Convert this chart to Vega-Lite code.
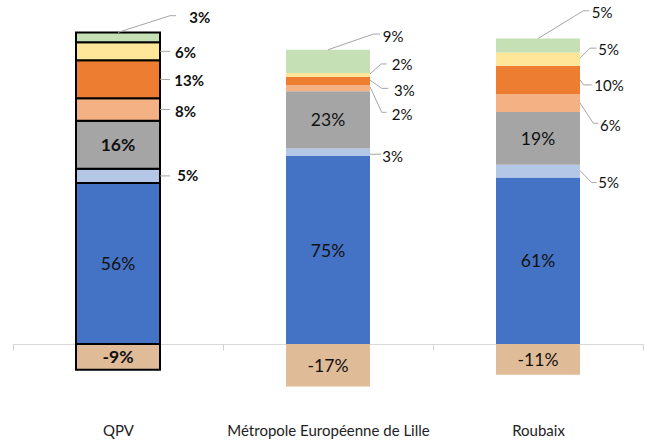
{
  "$schema": "https://vega.github.io/schema/vega-lite/v6.json",
  "width": 630,
  "height": 420,
  "autosize": {"type": "none"},
  "padding": {"left": 13, "top": 11, "right": 2, "bottom": 10},
  "background": "white",
  "config": {"view": {"stroke": null}, "font": "Lato"},
  "data": {"values": [
    {"place": "QPV", "type": "A", "value": 55.5, "label": "56%"},
    {"place": "QPV", "type": "B", "value": 4.9, "label": "5%"},
    {"place": "QPV", "type": "C", "value": 16.6, "label": "16%"},
    {"place": "QPV", "type": "D", "value": 7.7, "label": "8%"},
    {"place": "QPV", "type": "E", "value": 13.1, "label": "13%"},
    {"place": "QPV", "type": "F", "value": 6.2, "label": "6%"},
    {"place": "QPV", "type": "G", "value": 3.4, "label": "3%"},
    {"place": "QPV", "type": "H", "value": -8.9, "label": "-9%"},
    {"place": "Métropole Européenne de Lille", "type": "A", "value": 64.8, "label": "75%"},
    {"place": "Métropole Européenne de Lille", "type": "B", "value": 2.6, "label": "3%"},
    {"place": "Métropole Européenne de Lille", "type": "C", "value": 19.7, "label": "23%"},
    {"place": "Métropole Européenne de Lille", "type": "D", "value": 2.1, "label": "2%"},
    {"place": "Métropole Européenne de Lille", "type": "E", "value": 2.9, "label": "3%"},
    {"place": "Métropole Européenne de Lille", "type": "F", "value": 1.3, "label": "2%"},
    {"place": "Métropole Européenne de Lille", "type": "G", "value": 8.0, "label": "9%"},
    {"place": "Métropole Européenne de Lille", "type": "H", "value": -14.7, "label": "-17%"},
    {"place": "Roubaix", "type": "A", "value": 57.4, "label": "61%"},
    {"place": "Roubaix", "type": "B", "value": 4.4, "label": "5%"},
    {"place": "Roubaix", "type": "C", "value": 18.2, "label": "19%"},
    {"place": "Roubaix", "type": "D", "value": 6.2, "label": "6%"},
    {"place": "Roubaix", "type": "E", "value": 9.7, "label": "10%"},
    {"place": "Roubaix", "type": "F", "value": 4.6, "label": "5%"},
    {"place": "Roubaix", "type": "G", "value": 4.8, "label": "5%"},
    {"place": "Roubaix", "type": "H", "value": -10.6, "label": "-11%"}
  ]},
  "transform": [
    {"stack": "value", "groupby": ["place"], "sort": [{"field": "type", "order": "ascending"}], "as": ["v0", "v1"]}
  ],
  "encoding": {
    "x": {
      "field": "place", "type": "nominal",
      "sort": ["QPV", "Métropole Européenne de Lille", "Roubaix"],
      "scale": {"paddingInner": 0, "paddingOuter": 0},
      "axis": {
        "title": null, "orient": "bottom", "offset": -87, "labelAngle": 0, "labelLimit": 400,
        "labelPadding": 73, "labelFontSize": 15, "labelFont": "Lato", "labelColor": "#222222",
        "domainColor": "#D9D9D9", "domainWidth": 1, "ticks": true, "tickColor": "#D0D0D0", "tickWidth": 1, "tickSize": 6,
        "tickBand": "extent", "grid": false
      }
    }
  },
  "layer": [
    {
      "mark": {"type": "bar", "strokeWidth": 2, "width": {"band": 0.4}},
      "encoding": {
        "y": {"field": "v1", "type": "quantitative", "scale": {"domain": [-30, 114.8], "nice": false, "zero": false}, "axis": null},
        "y2": {"field": "v0"},
        "color": {
          "field": "type", "type": "nominal", "legend": null,
          "scale": {"domain": ["A", "B", "C", "D", "E", "F", "G", "H"],
                    "range": ["#4472C4", "#B4C7E7", "#A5A5A5", "#F4B183", "#ED7D31", "#FFE699", "#C5E0B4", "#DFBB97"]}
        },
        "stroke": {"condition": {"test": "datum.place === 'QPV'", "value": "#000000"}, "value": null}
      }
    },
    {
      "transform": [{"filter": {"field": "type", "oneOf": ["A", "C", "H"]}}],
      "mark": {
        "type": "text", "fontSize": 17.5, "font": "Lato", "color": "#111111", "baseline": "middle", "align": "center",
        "dy": {"expr": "(scale('y', datum.v1) - scale('y', datum.v0)) / 2 + 1.5"},
        "fontWeight": {"expr": "datum.place === 'QPV' && datum.type !== 'A' ? 'bold' : 'normal'"}
      },
      "encoding": {
        "y": {"field": "v0", "type": "quantitative"},
        "text": {"field": "label"}
      }
    },
    {
      "transform": [{"filter": {"field": "type", "oneOf": ["B", "D", "E", "F", "G"]}}],
      "mark": {
        "type": "rule", "color": "#A6A6A6", "strokeWidth": 1,
        "xOffset": {"expr": "datum.type === 'G' ? 0 : 42"},
        "x2Offset": {"expr": "42 + ({B: [10, 11, 11.7], D: [10, 11.7, 13.3], E: [10, 11.7, 3.3], F: [10, 11, 10], G: [10, 3.3, 3.3]})[datum.type][indexof(['QPV', 'Métropole Européenne de Lille', 'Roubaix'], datum.place)]"},
        "yOffset": {"expr": "(scale('y', datum.v1) - scale('y', datum.v0)) / 2 + ({B: [0, 2, -0.5], D: [0, -1.6, 0], E: [0, -1, 0], F: [0, -1, -1], G: [-5, -11.7, -7]})[datum.type][indexof(['QPV', 'Métropole Européenne de Lille', 'Roubaix'], datum.place)]"},
        "y2Offset": {"expr": "(scale('y', datum.v1) - scale('y', datum.v0)) / 2 + ({B: [0, 2, 11.5], D: [0, 24, 20.3], E: [0.3, 7.3, 5], F: [0, -11, -11], G: [-21.7, -27.4, -34.7]})[datum.type][indexof(['QPV', 'Métropole Européenne de Lille', 'Roubaix'], datum.place)]"}
      },
      "encoding": {
        "x2": {"field": "place"},
        "y": {"field": "v0", "type": "quantitative"},
        "y2": {"field": "v0"}
      }
    },
    {
      "transform": [{"filter": {"field": "type", "oneOf": ["B", "D", "E", "F", "G"]}}],
      "mark": {
        "type": "rule", "color": "#A6A6A6", "strokeWidth": 1,
        "xOffset": {"expr": "42 + ({B: [10, 11, 11.7], D: [10, 11.7, 13.3], E: [10, 11.7, 3.3], F: [10, 11, 10], G: [10, 3.3, 3.3]})[datum.type][indexof(['QPV', 'Métropole Européenne de Lille', 'Roubaix'], datum.place)]"},
        "x2Offset": {"expr": "42 + ({B: [10, 11, 16.7], D: [10, 16.7, 18.3], E: [10, 18.3, 11.7], F: [10, 16.7, 16.7], G: [16, 10, 9.3]})[datum.type][indexof(['QPV', 'Métropole Européenne de Lille', 'Roubaix'], datum.place)]"},
        "yOffset": {"expr": "(scale('y', datum.v1) - scale('y', datum.v0)) / 2 + ({B: [0, 2, 11.5], D: [0, 24, 20.3], E: [0.3, 7.3, 5], F: [0, -11, -11], G: [-21.7, -27.4, -34.7]})[datum.type][indexof(['QPV', 'Métropole Européenne de Lille', 'Roubaix'], datum.place)]"},
        "y2Offset": {"expr": "(scale('y', datum.v1) - scale('y', datum.v0)) / 2 + ({B: [0, 2, 11.5], D: [0, 24, 20.3], E: [0.3, 7.3, 5], F: [0, -11, -11], G: [-21.7, -27.4, -34.7]})[datum.type][indexof(['QPV', 'Métropole Européenne de Lille', 'Roubaix'], datum.place)]"}
      },
      "encoding": {
        "x2": {"field": "place"},
        "y": {"field": "v0", "type": "quantitative"},
        "y2": {"field": "v0"}
      }
    },
    {
      "transform": [{"filter": {"field": "type", "oneOf": ["B", "D", "E", "F", "G"]}}],
      "mark": {
        "type": "text", "fontSize": 15, "font": "Lato", "color": "#111111", "baseline": "middle", "align": "left",
        "dx": {"expr": "42 + ({B: [17.3, 12.3, 18.3], D: [15, 21.7, 20], E: [14.3, 24, 14.3], F: [15, 21.7, 18.3], G: [29.3, 12.7, 11.7]})[datum.type][indexof(['QPV', 'Métropole Européenne de Lille', 'Roubaix'], datum.place)]"},
        "dy": {"expr": "(scale('y', datum.v1) - scale('y', datum.v0)) / 2 + ({B: [0.5, 5, 12], D: [2.8, 26.7, 23], E: [2, 10, 5.7], F: [1.6, -9.5, -9.3], G: [-19.4, -24, -32.4]})[datum.type][indexof(['QPV', 'Métropole Européenne de Lille', 'Roubaix'], datum.place)]"},
        "fontWeight": {"expr": "datum.place === 'QPV' ? 'bold' : 'normal'"}
      },
      "encoding": {
        "y": {"field": "v0", "type": "quantitative"},
        "text": {"field": "label"}
      }
    }
  ]
}
